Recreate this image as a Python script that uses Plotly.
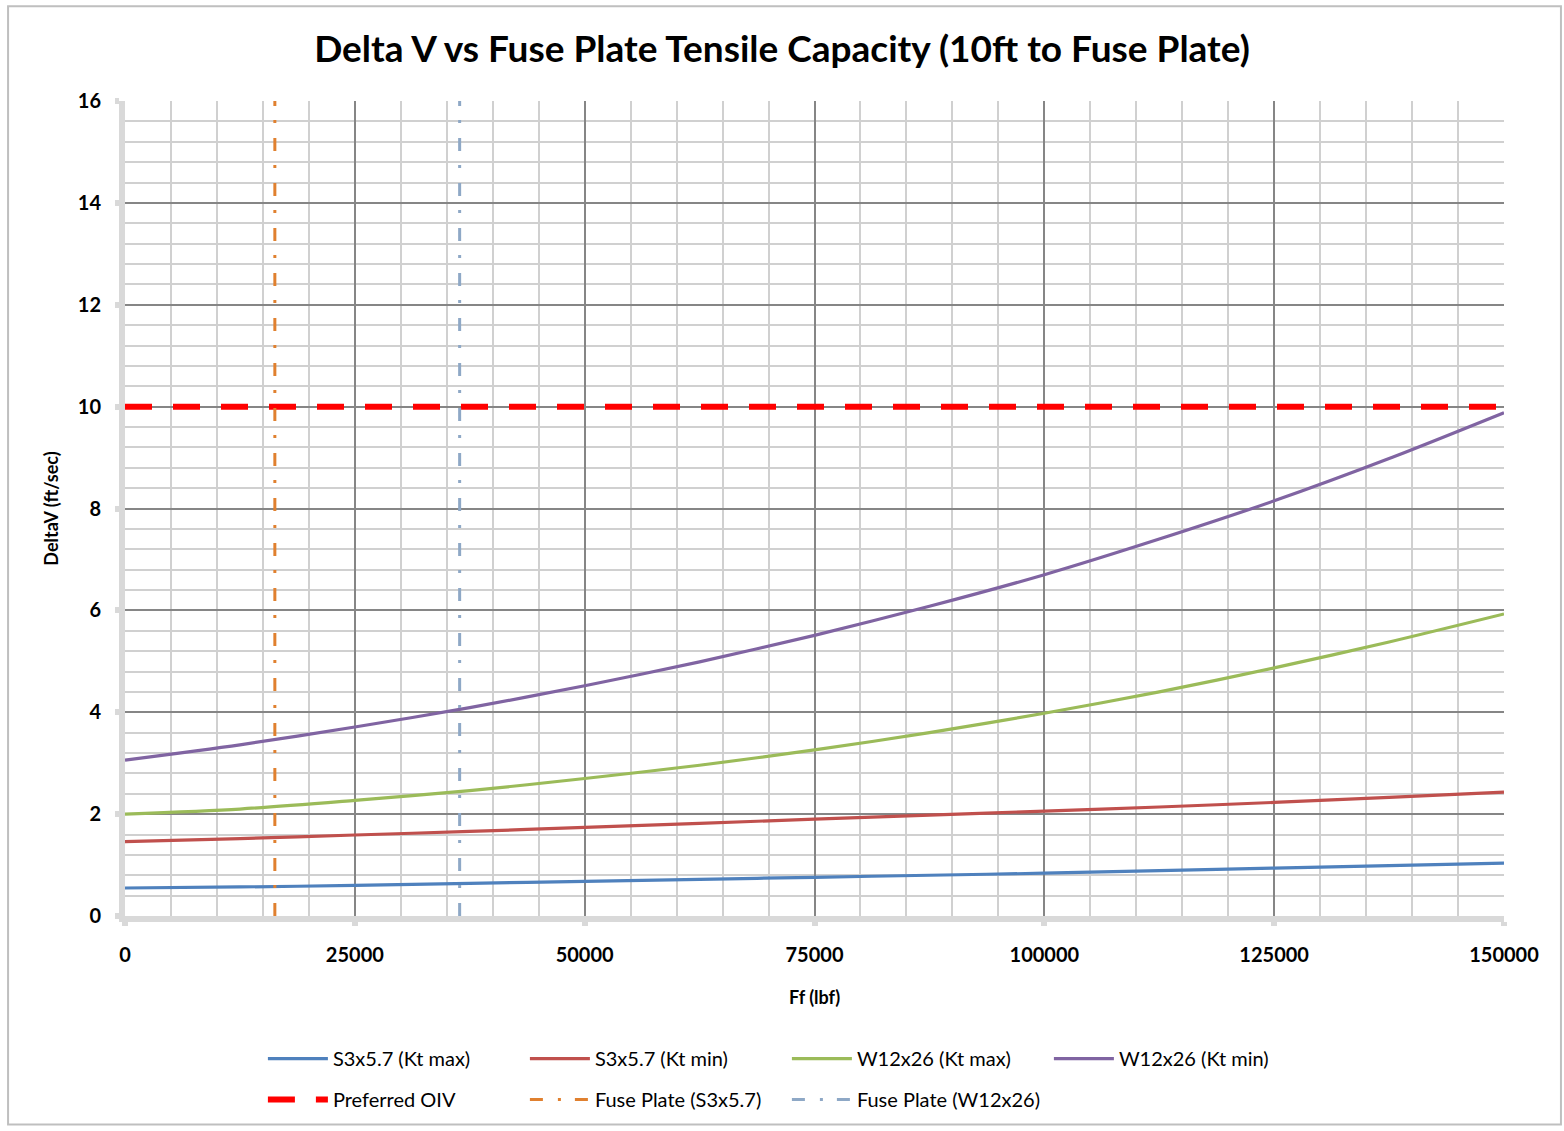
import plotly.graph_objects as go

# Tensile force on the fuse plate (lbf)
force_lbf = [0, 12500, 25000, 37500, 50000, 62500, 75000, 87500,
             100000, 112500, 125000, 137500, 150000]

# Delta V (ft/sec) for each member / stiffness case
s3_kt_max = [0.55, 0.57, 0.60, 0.64, 0.68, 0.72, 0.76, 0.80, 0.84, 0.89, 0.94, 0.99, 1.04]
s3_kt_min = [1.46, 1.52, 1.59, 1.66, 1.74, 1.82, 1.90, 1.98, 2.06, 2.14, 2.23, 2.33, 2.43]
w12_kt_max = [2.00, 2.10, 2.27, 2.46, 2.70, 2.96, 3.26, 3.60, 3.98, 4.40, 4.87, 5.38, 5.93]
w12_kt_min = [3.06, 3.36, 3.71, 4.09, 4.52, 4.99, 5.51, 6.08, 6.70, 7.40, 8.15, 8.98, 9.88]

# Reference limits
preferred_oiv = 10.0
fuse_plate_s3 = 16300
fuse_plate_w12 = 36400

x_range = [0, 150000]
y_range = [0, 16]

FONT = "Lato"

fig = go.Figure()

curves = [
    ("S3x5.7 (Kt max)", s3_kt_max, "#4F81BD"),
    ("S3x5.7 (Kt min)", s3_kt_min, "#C0504D"),
    ("W12x26 (Kt max)", w12_kt_max, "#9BBB59"),
    ("W12x26 (Kt min)", w12_kt_min, "#8064A2"),
]
for name, vals, color in curves:
    fig.add_trace(go.Scatter(
        x=force_lbf, y=vals, name=name, mode="lines",
        line=dict(color=color, width=3.2, shape="spline", smoothing=0.8),
        legend="legend",
    ))

fig.add_trace(go.Scatter(
    x=x_range, y=[preferred_oiv, preferred_oiv], name="Preferred OIV", mode="lines",
    line=dict(color="#FF0000", width=6, dash="27px,21px"),
    legend="legend2",
))
fig.add_trace(go.Scatter(
    x=[fuse_plate_s3, fuse_plate_s3], y=y_range, name="Fuse Plate (S3x5.7)", mode="lines",
    line=dict(color="#E0802F", width=3, dash="13px,15px,3px,14px"),
    legend="legend2",
))
fig.add_trace(go.Scatter(
    x=[fuse_plate_w12, fuse_plate_w12], y=y_range, name="Fuse Plate (W12x26)", mode="lines",
    line=dict(color="#8EA8C6", width=3, dash="13px,15px,3px,14px"),
    legend="legend2",
))

axis_common = dict(
    showline=True, linecolor="#D9D9D9", linewidth=6,
    ticks="outside", ticklen=4, tickwidth=6, tickcolor="#D9D9D9",
    showgrid=True, gridcolor="#868686", gridwidth=2,
    zeroline=False, automargin=False,
    tickformat="d",
    tickfont=dict(family=FONT, size=20, color="#000000", weight="bold"),
)

fig.update_xaxes(
    range=x_range, dtick=25000, tick0=0,
    minor=dict(dtick=5000, showgrid=True, gridcolor="#D0D0D0", gridwidth=1.5),
    title=dict(text="Ff (lbf)", font=dict(family=FONT, size=18, color="#000000", weight="bold"),
               standoff=28),
    ticklabelstandoff=12,
    **axis_common,
)
fig.update_yaxes(
    range=y_range, dtick=2, tick0=0,
    minor=dict(dtick=0.4, showgrid=True, gridcolor="#D0D0D0", gridwidth=1.5),
    title=dict(text="DeltaV (ft/sec)", font=dict(family=FONT, size=18, color="#000000", weight="bold"),
               standoff=16),
    ticklabelstandoff=10,
    **axis_common,
)

legend_font = dict(family=FONT, size=20, color="#000000")
fig.update_layout(
    width=1564, height=1131,
    margin=dict(l=125, r=60, t=101, b=213),
    paper_bgcolor="#FFFFFF", plot_bgcolor="#FFFFFF",
    title=dict(
        text="<b>Delta V vs Fuse Plate Tensile Capacity (10ft to Fuse Plate)</b>",
        x=0.5, xanchor="center", y=0.957, yanchor="middle",
        font=dict(family=FONT, size=37, color="#000000"),
    ),
    legend=dict(
        orientation="h", x=0.1, xanchor="left", y=-0.175, yanchor="middle",
        entrywidth=187, itemwidth=60, font=legend_font, bgcolor="rgba(0,0,0,0)",
    ),
    legend2=dict(
        orientation="h", x=0.1, xanchor="left", y=-0.225, yanchor="middle",
        entrywidth=187, itemwidth=60, font=legend_font, bgcolor="rgba(0,0,0,0)",
    ),
    shapes=[dict(
        type="rect", xref="paper", yref="paper",
        x0=-0.0848, x1=1.0413, y0=-0.2558, y1=1.1163,
        line=dict(color="#BFBFBF", width=2), fillcolor="rgba(0,0,0,0)", layer="below",
    )],
    showlegend=True,
)

fig.write_html("out.html")
